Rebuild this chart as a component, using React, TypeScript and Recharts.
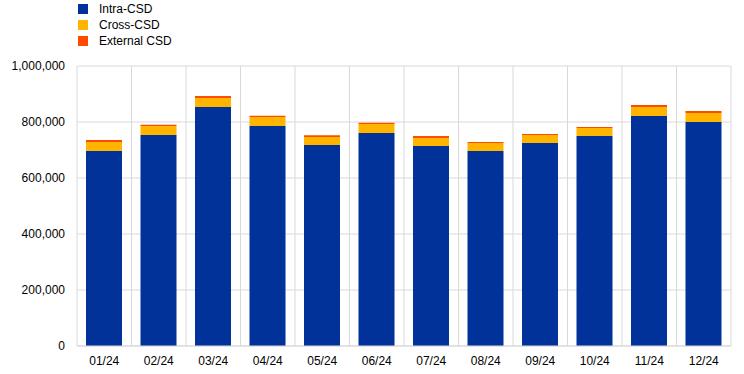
import React from "react";
import { BarChart, Bar, XAxis, YAxis, CartesianGrid } from "recharts";

const months = ["01/24", "02/24", "03/24", "04/24", "05/24", "06/24", "07/24", "08/24", "09/24", "10/24", "11/24", "12/24"];
const intraCSD = [696000, 754000, 854000, 786000, 718000, 761000, 714000, 696000, 725000, 750000, 821000, 800000];
const crossCSD = [33000, 32000, 32000, 32000, 28000, 32000, 29000, 29000, 29000, 29000, 33000, 32000];
const externalCSD = [7000, 4000, 7000, 4000, 7000, 4000, 7000, 4000, 3000, 3000, 7000, 7000];
const yTicks = [0, 200000, 400000, 600000, 800000, 1000000];

const seriesNames = ["Intra-CSD", "Cross-CSD", "External CSD"];
const seriesKeys = ["intra", "cross", "external"];
const seriesColors = ["#003299", "#FFB400", "#FF4B00"];

const data = months.map((m, i) => ({
  month: m,
  intra: intraCSD[i],
  cross: crossCSD[i],
  external: externalCSD[i],
}));

const FONT = "'Liberation Sans', Arial, sans-serif";

const fmt = (v: number) => v.toLocaleString("en-US");

export default function App() {
  return (
    <div style={{ position: "absolute", left: 0, top: 0, width: 744, height: 374, background: "#fff" }}>
      <div style={{ position: "absolute", left: 78, top: 1, fontFamily: FONT, fontSize: 12, color: "#000", zIndex: 2 }}>
        {seriesNames.map((name, i) => (
          <div key={name} style={{ display: "flex", alignItems: "center", height: 16 }}>
            <span style={{ display: "inline-block", width: 10, height: 10, background: seriesColors[i], marginRight: 11 }} />
            <span>{name}</span>
          </div>
        ))}
      </div>
      <BarChart
        width={744}
        height={374}
        data={data}
        margin={{ top: 66, right: 13, left: 0, bottom: 0 }}
        barSize={36}
      >
        <CartesianGrid
          stroke="#d9d9d9"
          verticalCoordinatesGenerator={({ offset }: any) => {
            const n = months.length;
            const w = offset.width / n;
            return Array.from({ length: n + 1 }, (_, i) => offset.left + i * w);
          }}
        />
        <XAxis
          dataKey="month"
          height={28}
          tickLine={false}
          axisLine={{ stroke: "#d9d9d9" }}
          tick={{ fontFamily: FONT, fontSize: 12, fill: "#000" }}
          tickMargin={4}
        />
        <YAxis
          width={77}
          domain={[0, 1000000]}
          ticks={yTicks}
          tickFormatter={fmt}
          axisLine={false}
          tickLine={false}
          tick={{ fontFamily: FONT, fontSize: 12, fill: "#000" }}
          tickMargin={6}
        />
        {seriesKeys.map((k, i) => (
          <Bar key={k} dataKey={k} name={seriesNames[i]} stackId="a" fill={seriesColors[i]} isAnimationActive={false} />
        ))}
      </BarChart>
    </div>
  );
}
